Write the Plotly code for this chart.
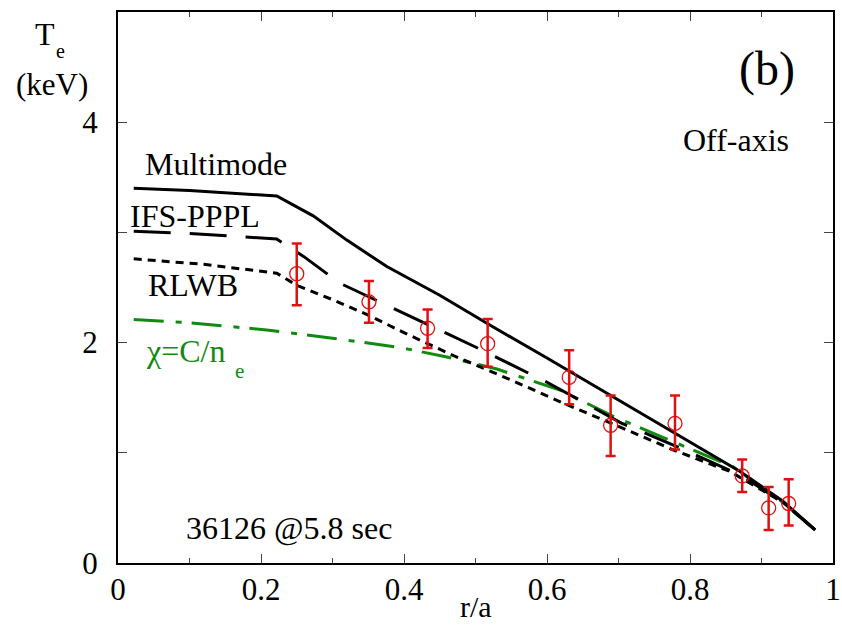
import plotly.graph_objects as go

# ---- data ----
mm_x = [0.022, 0.10, 0.222, 0.273, 0.32, 0.376, 0.45, 0.52, 0.60, 0.70, 0.80, 0.87, 0.93, 0.975]
mm_y = [3.40, 3.38, 3.33, 3.15, 2.93, 2.69, 2.43, 2.16, 1.86, 1.48, 1.10, 0.83, 0.56, 0.30]

ifs_x = [0.022, 0.10, 0.222, 0.26, 0.31, 0.417, 0.50, 0.60, 0.704, 0.78, 0.87, 0.93, 0.975]
ifs_y = [3.01, 2.99, 2.94, 2.78, 2.54, 2.21, 1.96, 1.64, 1.27, 1.06, 0.80, 0.55, 0.30]

rl_x = [0.022, 0.12, 0.222, 0.25, 0.30, 0.35, 0.40, 0.47, 0.55, 0.623, 0.70, 0.777, 0.856, 0.93, 0.975]
rl_y = [2.76, 2.71, 2.63, 2.52, 2.39, 2.25, 2.09, 1.88, 1.66, 1.45, 1.24, 1.025, 0.83, 0.55, 0.30]

gr_x = [0.022, 0.10, 0.208, 0.30, 0.395, 0.46, 0.53, 0.618, 0.693, 0.795, 0.861, 0.93, 0.975]
gr_y = [2.21, 2.18, 2.115, 2.04, 1.955, 1.87, 1.76, 1.57, 1.33, 1.055, 0.87, 0.55, 0.30]

exp_x = [0.25, 0.351, 0.433, 0.517, 0.631, 0.689, 0.779, 0.873, 0.910, 0.938]
exp_y = [2.625, 2.37, 2.13, 1.99, 1.685, 1.25, 1.267, 0.79, 0.50, 0.54]
exp_hi = [2.90, 2.56, 2.30, 2.215, 1.93, 1.52, 1.52, 0.94, 0.69, 0.76]
exp_lo = [2.34, 2.18, 1.95, 1.78, 1.44, 0.97, 1.03, 0.645, 0.30, 0.34]

x_ticks = [0, 0.2, 0.4, 0.6, 0.8, 1]
x_labels = ["0", "0.2", "0.4", "0.6", "0.8", "1"]
y_ticks = [0, 2, 4]
y_labels = ["0", "2", "4"]

GREEN = "#118a11"
RED = "#e01010"
FONT = "Liberation Serif, Times New Roman, DejaVu Serif, serif"

fig = go.Figure()
fig.add_trace(go.Scatter(x=gr_x, y=gr_y, mode="lines",
                         line=dict(color=GREEN, width=3, dash="30px,12px,6px,10px")))
fig.add_trace(go.Scatter(x=rl_x, y=rl_y, mode="lines",
                         line=dict(color="black", width=3, dash="8px,6px")))
fig.add_trace(go.Scatter(x=ifs_x, y=ifs_y, mode="lines",
                         line=dict(color="black", width=3, dash="37px,19px")))
fig.add_trace(go.Scatter(x=mm_x, y=mm_y, mode="lines",
                         line=dict(color="black", width=3)))

err_plus = [h - v for h, v in zip(exp_hi, exp_y)]
err_minus = [v - l for l, v in zip(exp_lo, exp_y)]
fig.add_trace(go.Scatter(x=exp_x, y=exp_y, mode="markers",
                         marker=dict(symbol="circle-open", size=14, color=RED,
                                     line=dict(color=RED, width=1.3)),
                         error_y=dict(type="data", symmetric=False, array=err_plus,
                                      arrayminus=err_minus, color=RED,
                                      thickness=2.5, width=5)))

def ann(text, x, y, size=32, color="black", xref="x", yref="y"):
    fig.add_annotation(text=text, x=x, y=y, xref=xref, yref=yref, showarrow=False,
                       font=dict(family=FONT, size=size, color=color),
                       xanchor="center", yanchor="middle")

ann("Multimode", 0.137, 3.62)
ann("IFS-PPPL", 0.107, 3.15)
ann("RLWB", 0.105, 2.52)
ann("χ=C/n", 0.094, 1.92, color=GREEN)
ann("e", 0.170, 1.74, size=21, color=GREEN)
ann("Off-axis", 0.865, 3.84)
ann("(b)", 0.907, 4.48, size=48)
ann("36126 @5.8 sec", 0.239, 0.32)

# axis titles (paper coords; reference pixel positions relative to plot frame)
def pann(text, px, py, size=30):
    fig.add_annotation(text=text, x=(px - 118) / 715, y=(563 - py) / 551,
                       xref="paper", yref="paper", showarrow=False,
                       font=dict(family=FONT, size=size, color="black"),
                       xanchor="center", yanchor="middle")

pann("T", 45, 34, size=32)
pann("e", 60, 51, size=20)
pann("(keV)", 52, 84, size=31)
pann("r/a", 476, 606, size=30)

axis_common = dict(showgrid=False, zeroline=False, showline=True, linecolor="black",
                   linewidth=2, mirror="allticks", ticks="inside", ticklen=9,
                   tickwidth=1, tickcolor="#444444", automargin=False,
                   tickfont=dict(family=FONT, size=31, color="black"))

fig.update_xaxes(range=[0, 1], tickvals=x_ticks, ticktext=x_labels,
                 ticklabelstandoff=-2,
                 minor=dict(dtick=0.1, ticks="inside", ticklen=5, tickcolor="#444444",
                            tickwidth=1, showgrid=False),
                 **axis_common)
fig.update_yaxes(range=[0, 5], tickvals=y_ticks, ticktext=y_labels,
                 ticklabelstandoff=12,
                 minor=dict(dtick=1, ticks="inside", ticklen=9, tickcolor="#444444",
                            tickwidth=1, showgrid=False),
                 **axis_common)

fig.update_layout(width=842, height=627, showlegend=False,
                  margin=dict(l=118, r=9, t=12, b=64, autoexpand=False),
                  plot_bgcolor="white", paper_bgcolor="white")

fig.write_html("out.html", config={"displayModeBar": False},
               post_script="document.body.style.margin='0';document.body.style.overflow='hidden';")
